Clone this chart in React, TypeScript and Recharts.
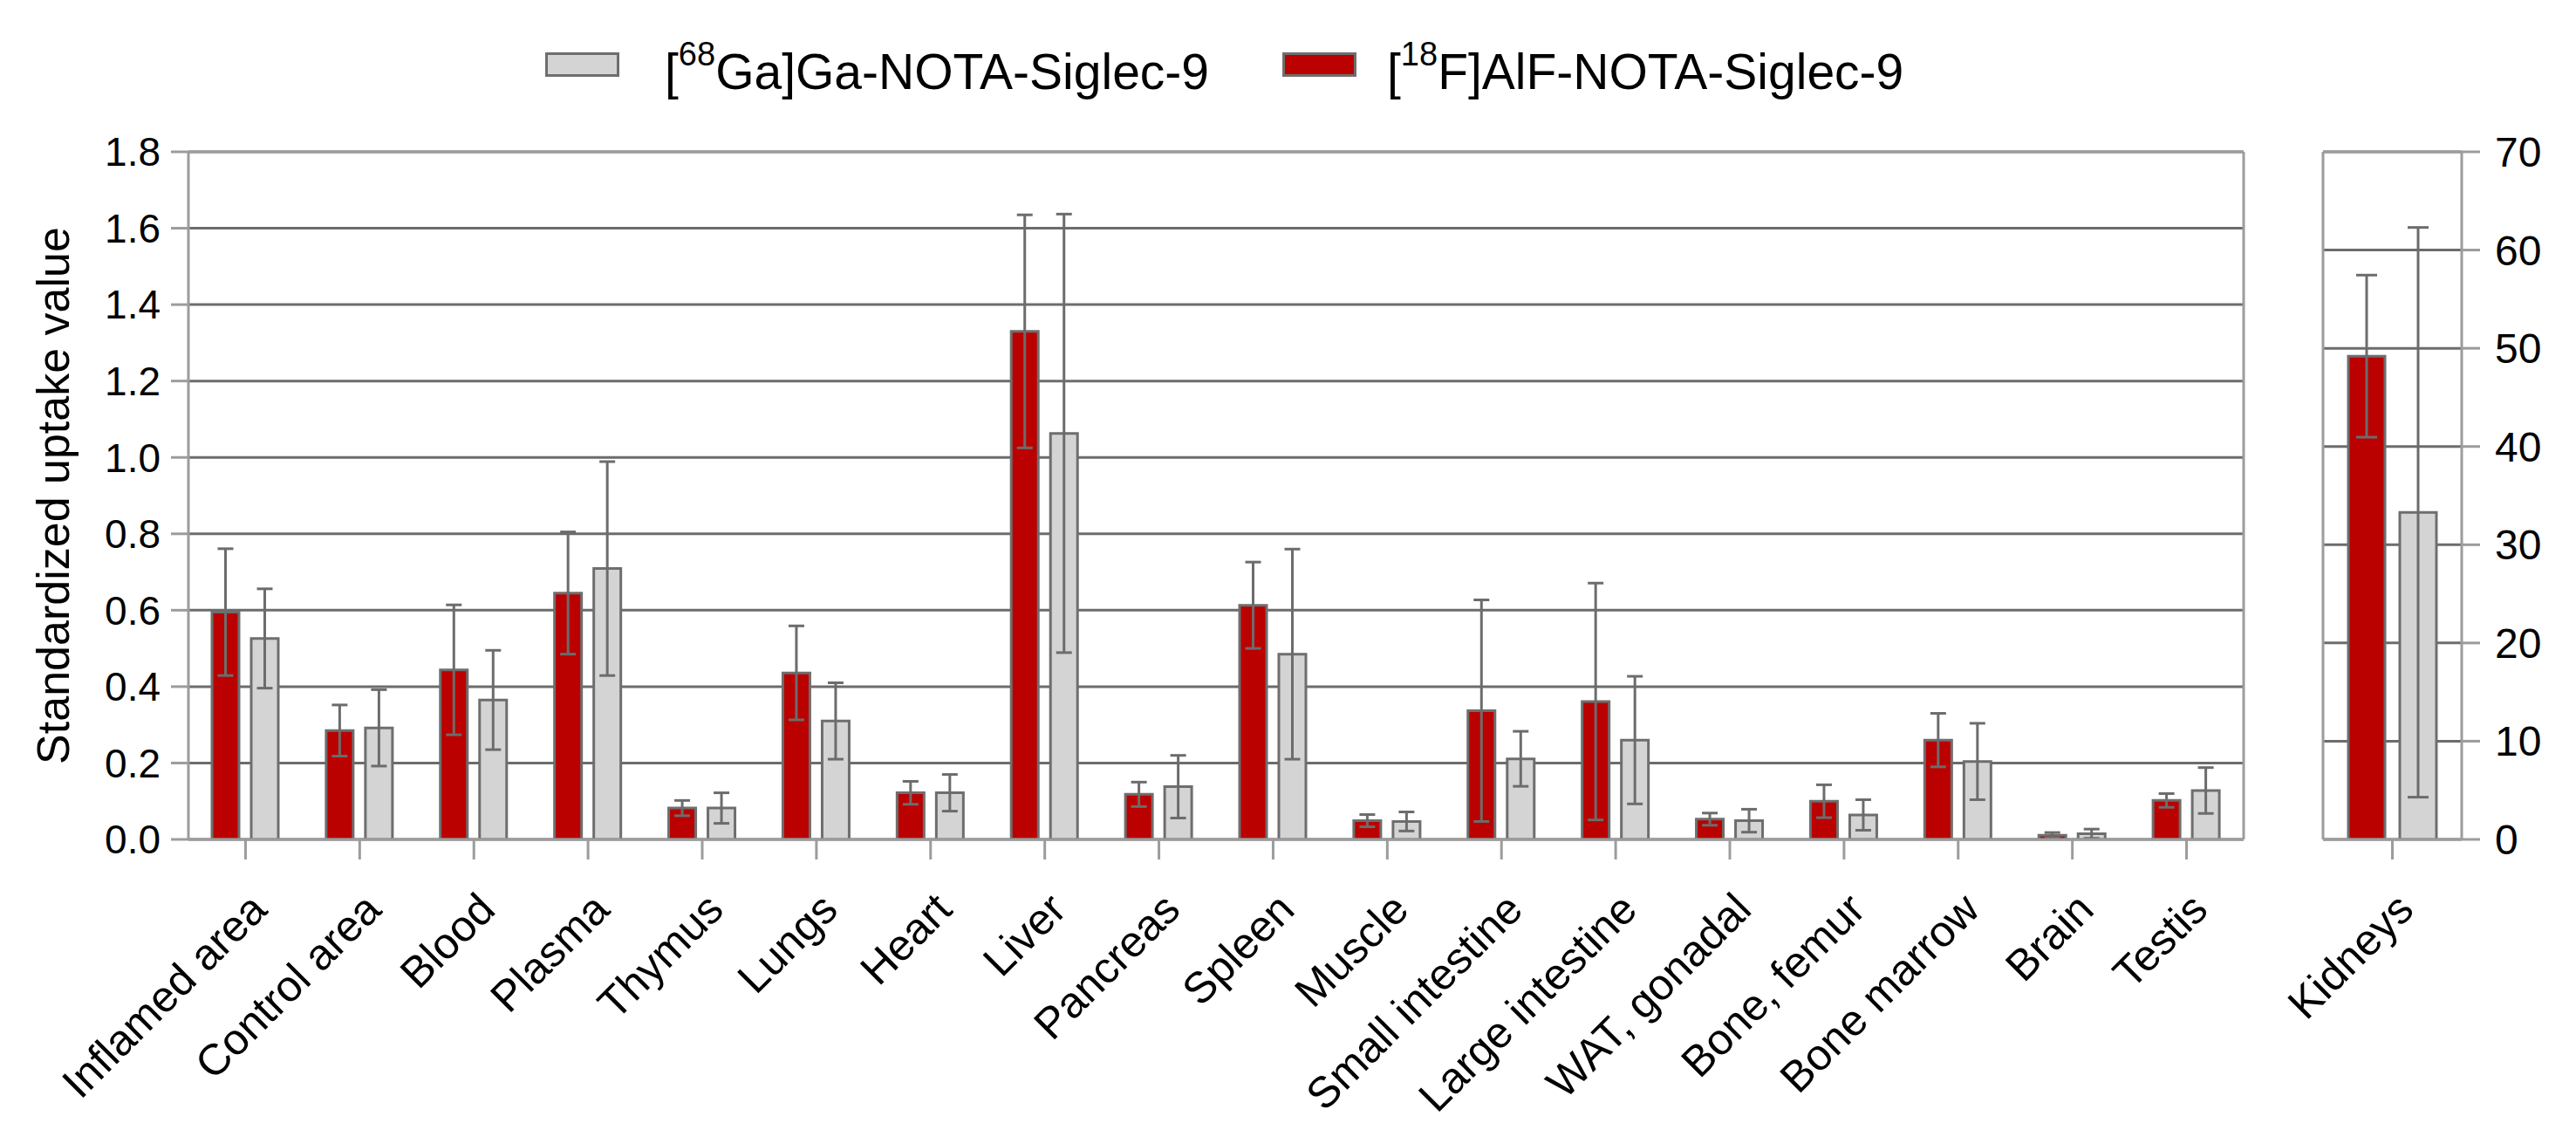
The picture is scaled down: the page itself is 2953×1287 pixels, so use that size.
import React from 'react';
import {
  BarChart, Bar, XAxis, YAxis, CartesianGrid, ErrorBar,
  ReferenceLine, Legend, Label,
} from 'recharts';

// Organ SUV values, [18F]AlF vs [68Ga]Ga tracer (mean ± SD)
const organs = [
  'Inflamed area', 'Control area', 'Blood', 'Plasma', 'Thymus', 'Lungs',
  'Heart', 'Liver', 'Pancreas', 'Spleen', 'Muscle', 'Small intestine',
  'Large intestine', 'WAT, gonadal', 'Bone, femur', 'Bone marrow', 'Brain', 'Testis',
];
const alfMean = [0.595, 0.285, 0.444, 0.645, 0.082, 0.436, 0.122, 1.33, 0.118, 0.613, 0.049, 0.337, 0.361, 0.053, 0.1, 0.26, 0.011, 0.102];
const alfSd = [0.166, 0.067, 0.17, 0.16, 0.02, 0.123, 0.03, 0.305, 0.032, 0.113, 0.016, 0.29, 0.31, 0.016, 0.043, 0.07, 0.007, 0.018];
const gaMean = [0.526, 0.292, 0.365, 0.709, 0.082, 0.31, 0.122, 1.063, 0.138, 0.485, 0.047, 0.211, 0.26, 0.049, 0.064, 0.204, 0.015, 0.128];
const gaSd = [0.13, 0.1, 0.13, 0.28, 0.04, 0.1, 0.048, 0.574, 0.082, 0.275, 0.025, 0.072, 0.167, 0.03, 0.04, 0.1, 0.012, 0.06];
const suvTicks = [0, 0.2, 0.4, 0.6, 0.8, 1.0, 1.2, 1.4, 1.6, 1.8];

// kidneys get their own panel and scale
const kidneyLabel = ['Kidneys'];
const kidneyAlfMean = [49.2];
const kidneyAlfSd = [8.25];
const kidneyGaMean = [33.3];
const kidneyGaSd = [29];
const kidneyTicks = [0, 10, 20, 30, 40, 50, 60, 70];

const FONT = '"Liberation Sans", Arial, Helvetica, sans-serif';
const RED = '#BB0000';
const GREY = '#D4D4D4';
const OUTLINE = '#6E6E6E';
const GRID = '#6C6C6C';
const FRAME = '#9C9C9C';

const organData = organs.map((name, i) => ({
  name, alf: alfMean[i], alfSd: alfSd[i], ga: gaMean[i], gaSd: gaSd[i],
}));
const kidneyData = kidneyLabel.map((name, i) => ({
  name, alf: kidneyAlfMean[i], alfSd: kidneyAlfSd[i], ga: kidneyGaMean[i], gaSd: kidneyGaSd[i],
}));

function OrganTick({ x, y, payload }: any) {
  const ax = x + 27;
  const ay = y + 60;
  return (
    <text x={ax} y={ay} transform={`rotate(-45 ${ax} ${ay})`} textAnchor="end"
      fontSize={50} fontFamily={FONT} fill="#000">
      {payload.value}
    </text>
  );
}

function AxisTitle({ viewBox }: any) {
  const x = viewBox.x - 24;
  const y = viewBox.y + viewBox.height / 2;
  return (
    <text x={x} y={y} transform={`rotate(-90 ${x} ${y})`} textAnchor="middle"
      fontSize={52} fontFamily={FONT} fill="#000">
      Standardized uptake value
    </text>
  );
}

function TracerLegend() {
  return (
    <svg width={2640} height={130} style={{ display: 'block' }}>
      <rect x={626.5} y={61.5} width={82} height={25} fill={GREY} stroke={OUTLINE} strokeWidth={3} />
      <text x={762} y={102} fontSize={57} fontFamily={FONT} fill="#000">
        [<tspan dy={-27} fontSize={38}>68</tspan><tspan dy={27}>Ga]Ga-NOTA-Siglec-9</tspan>
      </text>
      <rect x={1471.5} y={61.5} width={82} height={25} fill={RED} stroke={OUTLINE} strokeWidth={3} />
      <text x={1590} y={102} fontSize={57} fontFamily={FONT} fill="#000">
        [<tspan dy={-27} fontSize={38}>18</tspan><tspan dy={27}>F]AlF-NOTA-Siglec-9</tspan>
      </text>
    </svg>
  );
}

const frameLine = { stroke: FRAME, strokeWidth: 3 };

export default function App() {
  return (
    <div style={{ position: 'absolute', left: 0, top: 0, width: 2953, height: 1287, background: '#fff' }}>
      {/* main panel */}
      <div style={{ position: 'absolute', left: 0, top: 0 }}>
        <BarChart width={2640} height={1287} data={organData} barSize={31} barGap={14}
          margin={{ top: 174, right: 67, bottom: 125, left: 103 }}>
          <CartesianGrid vertical={false} stroke={GRID} strokeWidth={3} />
          <XAxis dataKey="name" height={200} interval={0} tick={<OrganTick />}
            axisLine={frameLine} tickLine={frameLine} tickSize={23} tickMargin={0} />
          <YAxis width={113} domain={[0, 1.8]} ticks={suvTicks} allowDataOverflow
            tickFormatter={(v: number) => v.toFixed(1)}
            tick={{ fontSize: 46, fill: '#000', fontFamily: FONT }}
            axisLine={frameLine} tickLine={frameLine} tickSize={20} tickMargin={12}>
            <Label content={<AxisTitle />} />
          </YAxis>
          <YAxis yAxisId="frame" orientation="right" width={1} domain={[0, 1.8]}
            tick={false} tickLine={false} axisLine={frameLine} />
          <ReferenceLine y={1.8} stroke={FRAME} strokeWidth={3} />
          <Legend layout="horizontal" verticalAlign="middle" align="center"
            wrapperStyle={{ top: 0, left: 0, width: 2640, height: 130 }}
            content={() => <TracerLegend />} />
          <Bar dataKey="alf" fill={RED} stroke={OUTLINE} strokeWidth={3} isAnimationActive={false}>
            <ErrorBar dataKey="alfSd" direction="y" width={9} stroke={GRID} strokeWidth={3} isAnimationActive={false} />
          </Bar>
          <Bar dataKey="ga" fill={GREY} stroke={OUTLINE} strokeWidth={3} isAnimationActive={false}>
            <ErrorBar dataKey="gaSd" direction="y" width={9} stroke={GRID} strokeWidth={3} isAnimationActive={false} />
          </Bar>
        </BarChart>
      </div>

      {/* kidneys panel */}
      <div style={{ position: 'absolute', left: 2580, top: 0 }}>
        <BarChart width={373} height={1287} data={kidneyData} barSize={42} barGap={17}
          margin={{ top: 174, right: 31, bottom: 125, left: 82 }}>
          <CartesianGrid vertical={false} stroke={GRID} strokeWidth={3} />
          <XAxis dataKey="name" height={200} interval={0} tick={<OrganTick />}
            axisLine={frameLine} tickLine={frameLine} tickSize={23} tickMargin={0} />
          <YAxis yAxisId="lf" orientation="left" width={1} domain={[0, 70]}
            tick={false} tickLine={false} axisLine={frameLine} />
          <YAxis orientation="right" width={100} domain={[0, 70]} ticks={kidneyTicks} allowDataOverflow
            tick={{ fontSize: 48, fill: '#000', fontFamily: FONT }}
            axisLine={frameLine} tickLine={frameLine} tickSize={21} tickMargin={17} />
          <ReferenceLine y={70} stroke={FRAME} strokeWidth={3} />
          <Bar dataKey="alf" fill={RED} stroke={OUTLINE} strokeWidth={3} isAnimationActive={false}>
            <ErrorBar dataKey="alfSd" direction="y" width={12} stroke={GRID} strokeWidth={3} isAnimationActive={false} />
          </Bar>
          <Bar dataKey="ga" fill={GREY} stroke={OUTLINE} strokeWidth={3} isAnimationActive={false}>
            <ErrorBar dataKey="gaSd" direction="y" width={12} stroke={GRID} strokeWidth={3} isAnimationActive={false} />
          </Bar>
        </BarChart>
      </div>
    </div>
  );
}
